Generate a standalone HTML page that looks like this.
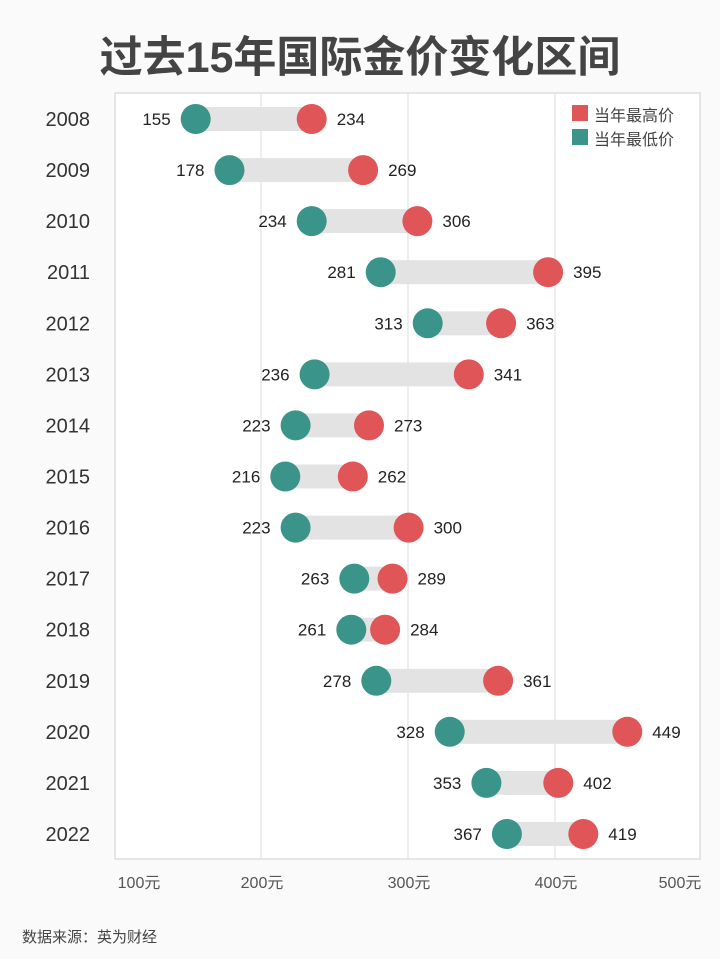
<!DOCTYPE html>
<html><head><meta charset="utf-8"><style>
body{margin:0;background:#fafafa;}
svg{display:block;}
text{font-family:"Liberation Sans","Noto Sans CJK SC",sans-serif;}
</style></head><body>
<svg width="720" height="959" viewBox="0 0 720 959" xmlns="http://www.w3.org/2000/svg">
<rect width="720" height="959" fill="#fafafa"/>
<text x="360" y="72" text-anchor="middle" font-size="43" font-weight="bold" fill="#444">过去15年国际金价变化区间</text>
<rect x="115" y="93" width="585" height="766" fill="#fff" stroke="#ddd" stroke-width="1.5"/>
<g stroke="#ddd" stroke-width="1">
<line x1="261" y1="93" x2="261" y2="859"/>
<line x1="408" y1="93" x2="408" y2="859"/>
<line x1="555" y1="93" x2="555" y2="859"/>
</g>
<g font-size="16" fill="#555" text-anchor="middle">
<text x="139" y="888">100元</text><text x="262" y="888">200元</text><text x="409" y="888">300元</text><text x="556" y="888">400元</text><text x="680" y="888">500元</text>
</g>
<rect x="572" y="105" width="16" height="16" fill="#e05558"/>
<text x="594" y="121" font-size="16" fill="#444">当年最高价</text>
<rect x="572" y="129" width="16" height="16" fill="#3b9489"/>
<text x="594" y="145" font-size="16" fill="#444">当年最低价</text>
<text x="22" y="942" font-size="15" fill="#444">数据来源：英为财经</text>

<g transform="translate(0,119)"><text x="90" y="7" font-size="20" fill="#333" text-anchor="end">2008</text><rect x="195.7" y="-12" width="116" height="24" fill="#e3e3e3"/><circle cx="195.7" cy="0" r="15" fill="#3b9489"/><circle cx="311.7" cy="0" r="15" fill="#e05558"/><text x="170.7" y="6" font-size="17" fill="#222" text-anchor="end">155</text><text x="336.7" y="6" font-size="17" fill="#222">234</text></g>
<g transform="translate(0,170.1)"><text x="90" y="7" font-size="20" fill="#333" text-anchor="end">2009</text><rect x="229.5" y="-12" width="133.6" height="24" fill="#e3e3e3"/><circle cx="229.5" cy="0" r="15" fill="#3b9489"/><circle cx="363.1" cy="0" r="15" fill="#e05558"/><text x="204.5" y="6" font-size="17" fill="#222" text-anchor="end">178</text><text x="388.1" y="6" font-size="17" fill="#222">269</text></g>
<g transform="translate(0,221.1)"><text x="90" y="7" font-size="20" fill="#333" text-anchor="end">2010</text><rect x="311.7" y="-12" width="105.7" height="24" fill="#e3e3e3"/><circle cx="311.7" cy="0" r="15" fill="#3b9489"/><circle cx="417.4" cy="0" r="15" fill="#e05558"/><text x="286.7" y="6" font-size="17" fill="#222" text-anchor="end">234</text><text x="442.4" y="6" font-size="17" fill="#222">306</text></g>
<g transform="translate(0,272.2)"><text x="90" y="7" font-size="20" fill="#333" text-anchor="end">2011</text><rect x="380.7" y="-12" width="167.4" height="24" fill="#e3e3e3"/><circle cx="380.7" cy="0" r="15" fill="#3b9489"/><circle cx="548.1" cy="0" r="15" fill="#e05558"/><text x="355.7" y="6" font-size="17" fill="#222" text-anchor="end">281</text><text x="573.1" y="6" font-size="17" fill="#222">395</text></g>
<g transform="translate(0,323.3)"><text x="90" y="7" font-size="20" fill="#333" text-anchor="end">2012</text><rect x="427.7" y="-12" width="73.4" height="24" fill="#e3e3e3"/><circle cx="427.7" cy="0" r="15" fill="#3b9489"/><circle cx="501.1" cy="0" r="15" fill="#e05558"/><text x="402.7" y="6" font-size="17" fill="#222" text-anchor="end">313</text><text x="526.1" y="6" font-size="17" fill="#222">363</text></g>
<g transform="translate(0,374.4)"><text x="90" y="7" font-size="20" fill="#333" text-anchor="end">2013</text><rect x="314.6" y="-12" width="154.2" height="24" fill="#e3e3e3"/><circle cx="314.6" cy="0" r="15" fill="#3b9489"/><circle cx="468.8" cy="0" r="15" fill="#e05558"/><text x="289.6" y="6" font-size="17" fill="#222" text-anchor="end">236</text><text x="493.8" y="6" font-size="17" fill="#222">341</text></g>
<g transform="translate(0,425.4)"><text x="90" y="7" font-size="20" fill="#333" text-anchor="end">2014</text><rect x="295.6" y="-12" width="73.4" height="24" fill="#e3e3e3"/><circle cx="295.6" cy="0" r="15" fill="#3b9489"/><circle cx="369" cy="0" r="15" fill="#e05558"/><text x="270.6" y="6" font-size="17" fill="#222" text-anchor="end">223</text><text x="394" y="6" font-size="17" fill="#222">273</text></g>
<g transform="translate(0,476.5)"><text x="90" y="7" font-size="20" fill="#333" text-anchor="end">2015</text><rect x="285.3" y="-12" width="67.5" height="24" fill="#e3e3e3"/><circle cx="285.3" cy="0" r="15" fill="#3b9489"/><circle cx="352.8" cy="0" r="15" fill="#e05558"/><text x="260.3" y="6" font-size="17" fill="#222" text-anchor="end">216</text><text x="377.8" y="6" font-size="17" fill="#222">262</text></g>
<g transform="translate(0,527.6)"><text x="90" y="7" font-size="20" fill="#333" text-anchor="end">2016</text><rect x="295.6" y="-12" width="113" height="24" fill="#e3e3e3"/><circle cx="295.6" cy="0" r="15" fill="#3b9489"/><circle cx="408.6" cy="0" r="15" fill="#e05558"/><text x="270.6" y="6" font-size="17" fill="#222" text-anchor="end">223</text><text x="433.6" y="6" font-size="17" fill="#222">300</text></g>
<g transform="translate(0,578.6)"><text x="90" y="7" font-size="20" fill="#333" text-anchor="end">2017</text><rect x="354.3" y="-12" width="38.2" height="24" fill="#e3e3e3"/><circle cx="354.3" cy="0" r="15" fill="#3b9489"/><circle cx="392.5" cy="0" r="15" fill="#e05558"/><text x="329.3" y="6" font-size="17" fill="#222" text-anchor="end">263</text><text x="417.5" y="6" font-size="17" fill="#222">289</text></g>
<g transform="translate(0,629.7)"><text x="90" y="7" font-size="20" fill="#333" text-anchor="end">2018</text><rect x="351.3" y="-12" width="33.8" height="24" fill="#e3e3e3"/><circle cx="351.3" cy="0" r="15" fill="#3b9489"/><circle cx="385.1" cy="0" r="15" fill="#e05558"/><text x="326.3" y="6" font-size="17" fill="#222" text-anchor="end">261</text><text x="410.1" y="6" font-size="17" fill="#222">284</text></g>
<g transform="translate(0,680.8)"><text x="90" y="7" font-size="20" fill="#333" text-anchor="end">2019</text><rect x="376.3" y="-12" width="121.8" height="24" fill="#e3e3e3"/><circle cx="376.3" cy="0" r="15" fill="#3b9489"/><circle cx="498.1" cy="0" r="15" fill="#e05558"/><text x="351.3" y="6" font-size="17" fill="#222" text-anchor="end">278</text><text x="523.1" y="6" font-size="17" fill="#222">361</text></g>
<g transform="translate(0,731.8)"><text x="90" y="7" font-size="20" fill="#333" text-anchor="end">2020</text><rect x="449.7" y="-12" width="177.6" height="24" fill="#e3e3e3"/><circle cx="449.7" cy="0" r="15" fill="#3b9489"/><circle cx="627.3" cy="0" r="15" fill="#e05558"/><text x="424.7" y="6" font-size="17" fill="#222" text-anchor="end">328</text><text x="652.3" y="6" font-size="17" fill="#222">449</text></g>
<g transform="translate(0,782.9)"><text x="90" y="7" font-size="20" fill="#333" text-anchor="end">2021</text><rect x="486.4" y="-12" width="71.9" height="24" fill="#e3e3e3"/><circle cx="486.4" cy="0" r="15" fill="#3b9489"/><circle cx="558.3" cy="0" r="15" fill="#e05558"/><text x="461.4" y="6" font-size="17" fill="#222" text-anchor="end">353</text><text x="583.3" y="6" font-size="17" fill="#222">402</text></g>
<g transform="translate(0,834)"><text x="90" y="7" font-size="20" fill="#333" text-anchor="end">2022</text><rect x="506.9" y="-12" width="76.4" height="24" fill="#e3e3e3"/><circle cx="506.9" cy="0" r="15" fill="#3b9489"/><circle cx="583.3" cy="0" r="15" fill="#e05558"/><text x="481.9" y="6" font-size="17" fill="#222" text-anchor="end">367</text><text x="608.3" y="6" font-size="17" fill="#222">419</text></g>
</svg>
</body></html>
